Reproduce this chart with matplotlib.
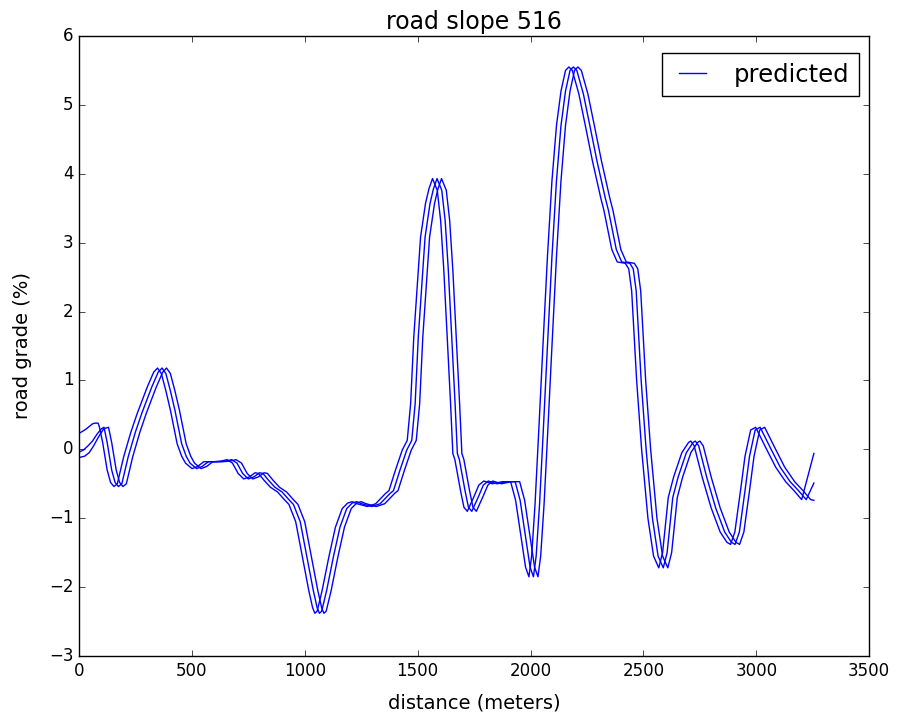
import matplotlib
matplotlib.use("Agg")
import matplotlib.pyplot as plt
import numpy as np

# Shared profile of the middle prediction (distance in m, grade in %)
profile_dist = [111, 125, 145, 160, 175, 190, 218, 250, 278, 322, 351, 368, 385, 405, 425,
                455, 475, 492, 521, 545, 573, 617, 650, 676, 700, 725, 750, 775, 800, 815,
                840, 868, 900, 927, 950, 980, 1009, 1038, 1055, 1065, 1075, 1097, 1127, 1156,
                1186, 1210, 1230, 1252, 1297, 1334, 1378, 1393, 1422, 1452, 1474, 1489, 1503,
                1518, 1533, 1555, 1570, 1586, 1607, 1622, 1636, 1651, 1666, 1676, 1685, 1710,
                1725, 1740, 1769, 1791, 1813, 1851, 1895, 1932, 1954, 1976, 1998, 2013, 2025,
                2040, 2057, 2075, 2095, 2115, 2135, 2155, 2175, 2190, 2205, 2234, 2264, 2294,
                2331, 2345, 2380, 2404, 2440, 2455, 2468, 2490, 2512, 2540, 2565, 2588, 2605,
                2630, 2654, 2690, 2720, 2730, 2745, 2780, 2820, 2860, 2890, 2906, 2925, 2950,
                2970, 2995, 3017, 3061, 3106, 3150, 3187, 3221]
profile_grade = [0.32, 0.10, -0.30, -0.48, -0.54, -0.50, -0.11, 0.25, 0.52, 0.90, 1.12, 1.18,
                 1.10, 0.85, 0.57, 0.08, -0.10, -0.20, -0.28, -0.25, -0.18, -0.18, -0.17, -0.15,
                 -0.20, -0.35, -0.43, -0.40, -0.34, -0.35, -0.45, -0.55, -0.62, -0.72, -0.80,
                 -1.05, -1.55, -2.05, -2.30, -2.38, -2.35, -2.05, -1.56, -1.13, -0.86, -0.78,
                 -0.76, -0.79, -0.83, -0.79, -0.64, -0.60, -0.30, -0.01, 0.13, 0.66, 1.63, 2.36,
                 3.08, 3.57, 3.78, 3.93, 3.76, 3.32, 2.60, 1.63, 0.66, -0.06, -0.15, -0.60,
                 -0.84, -0.90, -0.69, -0.52, -0.46, -0.50, -0.47, -0.47, -0.74, -1.22, -1.71,
                 -1.85, -1.55, -0.80, 0.30, 1.50, 2.80, 3.90, 4.70, 5.20, 5.50, 5.55, 5.50, 5.16,
                 4.68, 4.19, 3.65, 3.47, 2.90, 2.72, 2.70, 2.62, 2.30, 1.00, 0.00, -1.00, -1.55,
                 -1.72, -1.50, -0.70, -0.40, -0.05, 0.10, 0.12, 0.05, -0.40, -0.85, -1.20, -1.35,
                 -1.38, -1.20, -0.60, -0.10, 0.28, 0.32, 0.03, -0.26, -0.47, -0.60, -0.73]

# Lag (m) of each of the three prediction lines
lags = [-20, 0, 20]

# Start segments (before the shared profile) of each line
head_dist = [[0, 30, 60, 70, 85],
             [0, 20, 40, 60, 80, 100],
             [0, 25, 45, 65, 85, 110]]
head_grade = [[0.23, 0.29, 0.37, 0.38, 0.38],
              [-0.04, -0.01, 0.05, 0.12, 0.22, 0.30],
              [-0.12, -0.10, -0.05, 0.05, 0.17, 0.30]]

# End points of each line
tail_dist = [[3255], [3255], [3255]]
tail_grade = [[-0.06], [-0.49], [-0.74]]

plt.style.use("classic")
fig = plt.figure(figsize=(8.97, 7.15), dpi=100, facecolor="white")
ax = fig.add_axes([0.088, 0.0825, 0.881, 0.8672])

for i, lag in enumerate(lags):
    x = list(head_dist[i]) + [d + lag for d in profile_dist] + list(tail_dist[i])
    y = list(head_grade[i]) + list(profile_grade) + list(tail_grade[i])
    ax.plot(x, y, color="b", linewidth=1, label="predicted" if i == 0 else None)

ax.set_xlim(0, 3500)
ax.set_ylim(-3, 6)
ax.tick_params(labelsize=12)
ax.set_title("road slope 516", fontsize=17)
ax.set_xlabel("distance (meters)", fontsize=14, labelpad=10)
ax.set_ylabel("road grade (%)", fontsize=14, labelpad=12)
ax.legend(loc="upper right", fontsize=17.5, handlelength=1.7, handletextpad=0.85,
          bbox_to_anchor=(859 / 897, 1 - 53 / 715), bbox_transform=fig.transFigure,
          borderaxespad=0)

fig.savefig("out.png", dpi=100, facecolor="white")
